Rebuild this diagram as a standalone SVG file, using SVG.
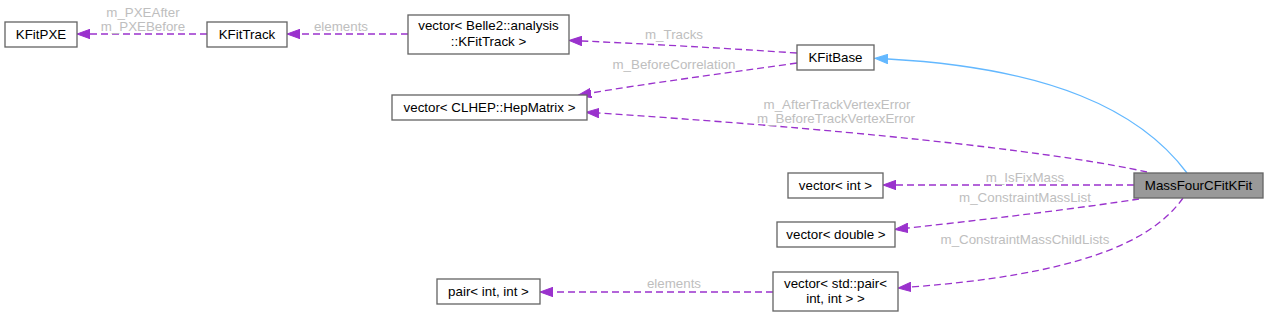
<svg xmlns="http://www.w3.org/2000/svg" width="1269" height="317" viewBox="0 0 1269 317">
<style>
.n rect{fill:#ffffff;stroke:#666666;stroke-width:1.33}
.n.cur rect{fill:#999999}
.n text{font-family:"Liberation Sans",Arial,sans-serif;font-size:13.33px;fill:#000000;text-anchor:middle}
.e path{fill:none;stroke:#9a32cd;stroke-width:1.33;stroke-dasharray:7,4}
.e path.inh{stroke:#63b8ff;stroke-dasharray:none}
.lbl text{font-family:"Liberation Sans",Arial,sans-serif;font-size:13.33px;fill:#bebebe;text-anchor:middle}
</style>
<defs>
<marker id="ap" markerUnits="userSpaceOnUse" markerWidth="14" markerHeight="10" viewBox="0 0 14 10" refX="0" refY="5" orient="auto">
<path d="M0,0.3 L13,5 L0,9.7 Z" fill="#9a32cd" stroke="#9a32cd" stroke-width="1"/>
</marker>
<marker id="ab" markerUnits="userSpaceOnUse" markerWidth="14" markerHeight="10" viewBox="0 0 14 10" refX="0" refY="5" orient="auto">
<path d="M0,0.3 L13,5 L0,9.7 Z" fill="#63b8ff" stroke="#63b8ff" stroke-width="1"/>
</marker>
</defs>
<g id="edges" class="e">
<path d="M207,34 L90,34" marker-end="url(#ap)"/>
<path d="M408,34 L300,34" marker-end="url(#ap)"/>
<path d="M797,53 C720,48 650,44 582,41" marker-end="url(#ap)"/>
<path d="M797,63 C720,74 650,83 591,93" marker-end="url(#ap)"/>
<path d="M1147,172 C1070,155 900,133 599,113" marker-end="url(#ap)"/>
<path class="inh" d="M1187,173 C1140,110 1050,68 888,59" marker-end="url(#ab)"/>
<path d="M1134,185 L896,185" marker-end="url(#ap)"/>
<path d="M1139,199 C1080,208 1000,218 908,228" marker-end="url(#ap)"/>
<path d="M1183,198 C1150,245 1070,275 911,287" marker-end="url(#ap)"/>
<path d="M773,292 L553,292" marker-end="url(#ap)"/>
</g>
<g id="edge-labels" class="lbl">
<text x="143" y="16.5">m_PXEAfter</text>
<text x="143" y="30.5">m_PXEBefore</text>
<text x="341" y="30.5">elements</text>
<text x="674" y="38.5">m_Tracks</text>
<text x="674" y="68.5">m_BeforeCorrelation</text>
<text x="837" y="108.5">m_AfterTrackVertexError</text>
<text x="836" y="122.5">m_BeforeTrackVertexError</text>
<text x="1025" y="181.5">m_IsFixMass</text>
<text x="1025" y="201.5">m_ConstraintMassList</text>
<text x="1025" y="243.5">m_ConstraintMassChildLists</text>
<text x="674" y="287.5">elements</text>
</g>
<g id="node-KFitPXE" class="n">
<rect x="5" y="22" width="72" height="25"/>
<text x="41" y="39">KFitPXE</text>
</g>
<g id="node-KFitTrack" class="n">
<rect x="207" y="22" width="80" height="25"/>
<text x="247" y="39">KFitTrack</text>
</g>
<g id="node-vecKFitTrack" class="n">
<rect x="408" y="15" width="161" height="39"/>
<text x="488.5" y="30">vector&lt; Belle2::analysis</text>
<text x="488.5" y="45.5">::KFitTrack &gt;</text>
</g>
<g id="node-KFitBase" class="n">
<rect x="797" y="45" width="77" height="25"/>
<text x="835.5" y="62">KFitBase</text>
</g>
<g id="node-vecHepMatrix" class="n">
<rect x="392" y="95" width="195" height="25"/>
<text x="489.5" y="112">vector&lt; CLHEP::HepMatrix &gt;</text>
</g>
<g id="node-MassFourCFitKFit" class="n cur">
<rect x="1134" y="173" width="129" height="25"/>
<text x="1198.5" y="190">MassFourCFitKFit</text>
</g>
<g id="node-vecInt" class="n">
<rect x="788" y="173" width="95" height="25"/>
<text x="835.5" y="190">vector&lt; int &gt;</text>
</g>
<g id="node-vecDouble" class="n">
<rect x="777" y="222" width="118" height="25"/>
<text x="836" y="239">vector&lt; double &gt;</text>
</g>
<g id="node-vecPair" class="n">
<rect x="773" y="272" width="125" height="39"/>
<text x="835.5" y="287.5">vector&lt; std::pair&lt;</text>
<text x="835.5" y="303">int, int &gt; &gt;</text>
</g>
<g id="node-pairIntInt" class="n">
<rect x="437" y="279" width="103" height="25"/>
<text x="488.5" y="296">pair&lt; int, int &gt;</text>
</g>
</svg>
